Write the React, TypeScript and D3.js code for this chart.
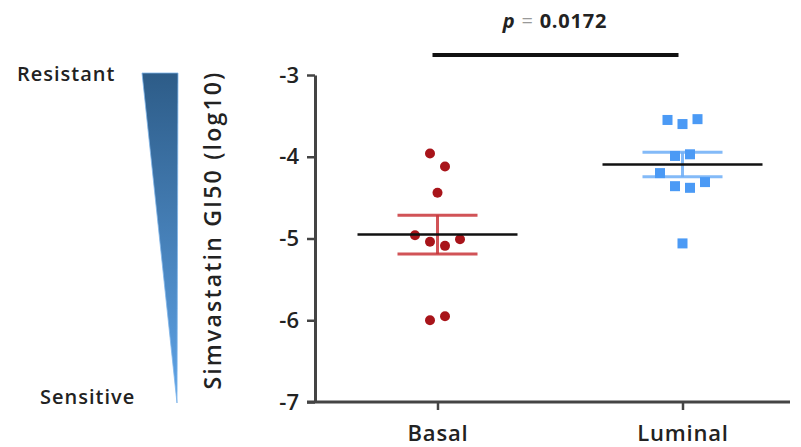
import React, { useEffect, useRef } from 'react';
import * as d3 from 'd3';

// groups and measured GI50 values (log10), in left-to-right order inside each cluster
const categories = ['Basal', 'Luminal'];
const basalValues = [-3.96, -4.12, -4.44, -4.96, -5.04, -5.09, -5.01, -6.0, -5.95];
const luminalValues = [-3.55, -3.6, -3.54, -3.99, -3.97, -4.2, -4.36, -4.38, -4.31, -5.06];
const yTicks = [-3, -4, -5, -6, -7];
const pValue = '0.0172';
const yLabel = 'Simvastatin GI50 (log10)';
const scaleTop = 'Resistant';
const scaleBottom = 'Sensitive';

const width = 801,
    height = 447;

const font = "'Open Sans', sans-serif";

// Prism-like column scatter: points with close values share a row and get spread sideways
function dodge(values: number[], tol: number): number[] {
    const order = values.map((v, i) => i).sort((a, b) => values[b] - values[a]);
    const offsets = new Array(values.length).fill(0);
    let cluster: number[] = [];
    let start = 0;
    const flush = () => {
        const idx = cluster.slice().sort((a, b) => a - b);
        idx.forEach((k, j) => { offsets[k] = j - (idx.length - 1) / 2; });
    };
    order.forEach(i => {
        if (cluster.length && start - values[i] > tol) {
            flush();
            cluster = [];
        }
        if (!cluster.length) start = values[i];
        cluster.push(i);
    });
    if (cluster.length) flush();
    return offsets;
}

function App() {
    const node = useRef<SVGSVGElement>(null);

    useEffect(() => {
        const svg = d3.select(node.current);
        svg.selectAll('*').remove();

        const x = d3.scalePoint<string>()
            .domain(categories)
            .range([315, 805])
            .padding(0.5);

        const y = d3.scaleLinear()
            .domain([-7, -3])
            .range([402, 75]);

        const groups = [
            { name: categories[0], values: basalValues, color: '#a8141a', bar: '#c9363a', shape: 'circle' },
            { name: categories[1], values: luminalValues, color: '#4b9af5', bar: '#6eaef7', shape: 'square' }
        ];

        // gradient wedge on the left
        const defs = svg.append('defs');
        const grad = defs.append('linearGradient')
            .attr('id', 'wedge')
            .attr('x1', 0).attr('y1', 0).attr('x2', 0).attr('y2', 1);
        grad.append('stop').attr('offset', '0%').attr('stop-color', '#2d5c88');
        grad.append('stop').attr('offset', '100%').attr('stop-color', '#5fa4e8');

        svg.append('path')
            .attr('d', `M142,${y(-3) - 2}L178,${y(-3) - 2}L177,${y(-7) + 1}Z`)
            .attr('fill', 'url(#wedge)')
            .attr('stroke', '#7fb5ea')
            .attr('stroke-width', 0.8);

        svg.append('text')
            .attr('x', 17).attr('y', 81)
            .style('font-family', font).style('font-size', '20px').style('font-weight', 600)
            .style('letter-spacing', '1px')
            .attr('fill', '#222')
            .text(scaleTop);

        svg.append('text')
            .attr('x', 40).attr('y', 404)
            .style('font-family', font).style('font-size', '20px').style('font-weight', 600)
            .style('letter-spacing', '1px')
            .attr('fill', '#222')
            .text(scaleBottom);

        // y axis label
        svg.append('text')
            .attr('transform', 'translate(221,230) rotate(-90)')
            .attr('text-anchor', 'middle')
            .style('font-family', font).style('font-size', '23px').style('font-weight', 600)
            .style('letter-spacing', '2.2px')
            .attr('fill', '#222')
            .text(yLabel);

        // axes
        const yAxis = d3.axisLeft(y)
            .tickValues(yTicks)
            .tickSize(8)
            .tickSizeOuter(0)
            .tickPadding(8)
            .tickFormat(d => `${d}`);

        const gy = svg.append('g')
            .attr('transform', 'translate(315,0)')
            .call(yAxis);
        gy.select('.domain').attr('stroke', '#444').attr('stroke-width', 3);
        gy.selectAll('.tick line').attr('stroke', '#444').attr('stroke-width', 2.5);
        gy.selectAll('.tick text')
            .style('font-family', font).style('font-size', '22px').style('font-weight', 600)
            .attr('fill', '#222');

        const xAxis = d3.axisBottom(x)
            .tickSize(8)
            .tickSizeOuter(0)
            .tickPadding(15);

        const gx = svg.append('g')
            .attr('transform', 'translate(0,402)')
            .call(xAxis);
        gx.select('.domain').attr('d', 'M307,0H790').attr('stroke', '#444').attr('stroke-width', 3);
        gx.selectAll('.tick line').attr('stroke', '#444').attr('stroke-width', 2.5);
        gx.selectAll('.tick text')
            .style('font-family', font).style('font-size', '22px').style('font-weight', 600)
            .style('letter-spacing', '0.8px')
            .attr('fill', '#222');

        // points, mean and SEM
        const step = 15;
        groups.forEach(g => {
            const cx = x(g.name) as number;
            const offs = dodge(g.values, 0.2);
            const mean = d3.mean(g.values) as number;
            const sem = (d3.deviation(g.values) as number) / Math.sqrt(g.values.length);
            const gg = svg.append('g');

            // error bar
            gg.append('line')
                .attr('x1', cx).attr('x2', cx)
                .attr('y1', y(mean + sem)).attr('y2', y(mean - sem))
                .attr('stroke', g.bar).attr('stroke-width', 3).attr('opacity', 0.85);
            [mean + sem, mean - sem].forEach(v => {
                gg.append('line')
                    .attr('x1', cx - 40).attr('x2', cx + 40)
                    .attr('y1', y(v)).attr('y2', y(v))
                    .attr('stroke', g.bar).attr('stroke-width', 3).attr('opacity', 0.85);
            });

            // points
            if (g.shape === 'circle') {
                gg.selectAll('circle')
                    .data(g.values)
                    .enter()
                    .append('circle')
                    .attr('cx', (d, i) => cx + offs[i] * step)
                    .attr('cy', d => y(d))
                    .attr('r', 5)
                    .attr('fill', g.color);
            } else {
                gg.selectAll('rect')
                    .data(g.values)
                    .enter()
                    .append('rect')
                    .attr('x', (d, i) => cx + offs[i] * step - 5)
                    .attr('y', d => y(d) - 5)
                    .attr('width', 10)
                    .attr('height', 10)
                    .attr('fill', g.color);
            }

            // mean line
            gg.append('line')
                .attr('x1', cx - 80).attr('x2', cx + 80)
                .attr('y1', y(mean)).attr('y2', y(mean))
                .attr('stroke', '#111').attr('stroke-width', 2.5);
        });

        // significance bar
        svg.append('line')
            .attr('x1', x(categories[0]) as number - 5).attr('x2', x(categories[1]) as number - 4)
            .attr('y1', 55).attr('y2', 55)
            .attr('stroke', '#111').attr('stroke-width', 4);

        const pt = svg.append('text')
            .attr('x', 555).attr('y', 28)
            .attr('text-anchor', 'middle')
            .style('font-family', font).style('font-size', '20px').style('font-weight', 700)
            .style('letter-spacing', '0.8px')
            .attr('fill', '#222');
        pt.append('tspan').style('font-style', 'italic').text('p');
        pt.append('tspan').attr('fill', '#999').style('font-weight', 400).text(' = ');
        pt.append('tspan').text(pValue);
    }, []);

    return (
        <svg ref={node} width={width} height={height}
            style={{ position: 'absolute', left: 0, top: 0, background: '#fff' }}></svg>
    );
}

export default App;
